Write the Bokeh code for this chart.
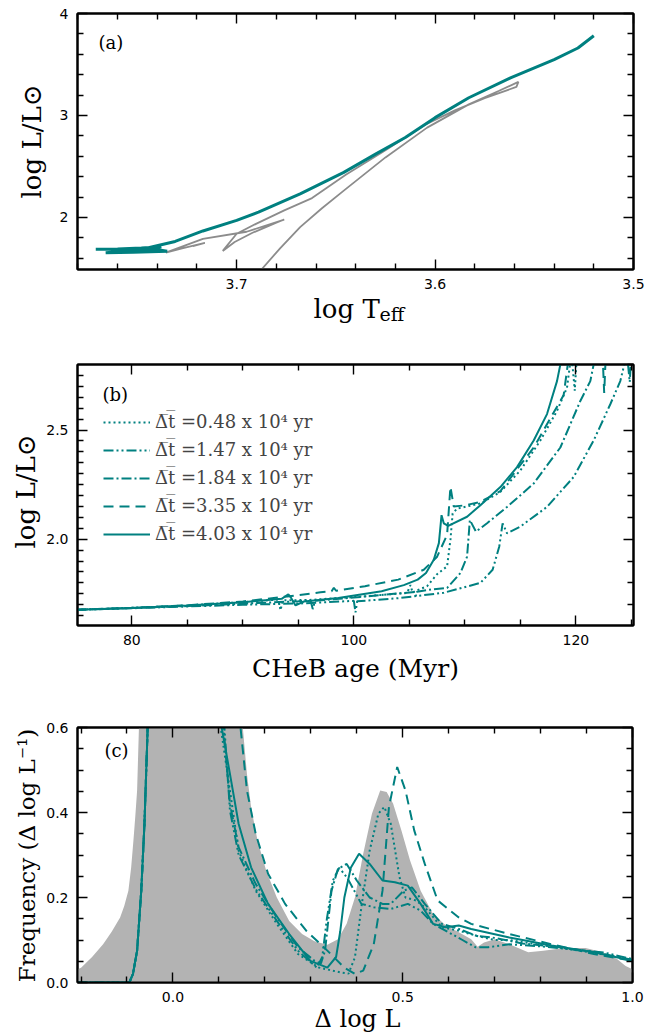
import math
from bokeh.plotting import figure
from bokeh.layouts import column
from bokeh.models import (FixedTicker, LinearAxis, Range1d, Label, Legend, LegendItem,
                          CustomJSTickFormatter, PrintfTickFormatter)
from bokeh.embed import file_html
from bokeh.resources import INLINE

# ---------------- data ----------------
# Panel (a): HR diagram
teal_a_teff = [3.771, 3.760, 3.748, 3.738, 3.742, 3.755, 3.766, 3.752, 3.735, 3.745, 3.731, 3.717,
               3.700, 3.689, 3.668, 3.646, 3.630, 3.615, 3.600, 3.583, 3.562, 3.540, 3.528, 3.520]
teal_a_lum = [1.688, 1.690, 1.700, 1.712, 1.690, 1.672, 1.655, 1.660, 1.668, 1.700, 1.765, 1.868,
              1.971, 2.052, 2.231, 2.442, 2.621, 2.784, 2.979, 3.174, 3.369, 3.548, 3.662, 3.782]
gray_a_teff = [3.6875, 3.678, 3.668, 3.657, 3.646, 3.625, 3.604, 3.583, 3.568, 3.558,
               3.559, 3.575, 3.590, 3.605, 3.625, 3.645, 3.662,
               3.676, 3.690, 3.700, 3.707, 3.701, 3.692, 3.680, 3.676,
               3.695, 3.717, 3.7357, 3.727, 3.716, 3.722]
gray_a_lum = [1.49, 1.70, 1.906, 2.09, 2.263, 2.589, 2.881, 3.109, 3.24, 3.33,
              3.28, 3.17, 3.05, 2.91, 2.66, 2.42, 2.19,
              2.07, 1.94, 1.84, 1.672, 1.76, 1.85, 1.95, 1.98,
              1.86, 1.79, 1.655, 1.70, 1.75, 1.72]

# Panel (b): log L vs CHeB age (Myr)
labels_b = ["\u0394\u0305t\u0305 =0.48 x 10\u2074 yr", "\u0394\u0305t\u0305 =1.47 x 10\u2074 yr",
            "\u0394\u0305t\u0305 =1.84 x 10\u2074 yr", "\u0394\u0305t\u0305 =3.35 x 10\u2074 yr",
            "\u0394\u0305t\u0305 =4.03 x 10\u2074 yr"]
dotted_b_age = [75, 80, 85, 90, 93.2, 93.4, 93.6, 96, 100, 104.8, 105.1, 105.3, 105.5, 106.6, 107.5,
                108.4, 108.7, 108.9, 109.3, 111.4, 113.2, 115.0, 116.8, 118.3, 119.2, 119.6, 119.9, 120.1, 120.3]
dotted_b_lum = [1.677, 1.686, 1.697, 1.712, 1.724, 1.675, 1.72, 1.722, 1.735, 1.754, 1.79, 1.755, 1.762,
                1.785, 1.84, 1.876, 1.997, 2.118, 2.14, 2.164, 2.217, 2.315, 2.452, 2.588, 2.694, 2.85, 2.68, 2.85, 2.9]
ddd_b_age = [75, 80, 85, 90, 95.2, 100, 100.15, 100.3, 104, 108.1, 111.4, 112.5, 113.1, 113.4, 113.8,
             115.0, 117.4, 119.8, 121.6, 123.1, 124.0, 124.6, 124.85, 125.0, 125.15]
ddd_b_lum = [1.677, 1.684, 1.692, 1.70, 1.706, 1.718, 1.665, 1.716, 1.73, 1.755, 1.80, 1.86, 1.967, 2.073,
             2.027, 2.058, 2.148, 2.285, 2.452, 2.618, 2.724, 2.85, 2.72, 2.85, 2.9]
dd_b_age = [75, 80, 85, 90, 95, 96.1, 96.3, 96.5, 100, 104, 105.5, 105.6, 105.7, 107, 108.4, 109.6,
            110.2, 110.45, 111.0, 112.0, 113.8, 116.2, 118.6, 120.4, 121.3, 121.8]
dd_b_lum = [1.677, 1.685, 1.694, 1.705, 1.716, 1.72, 1.68, 1.718, 1.733, 1.752, 1.758, 1.74, 1.76, 1.77,
            1.777, 1.845, 1.92, 2.088, 2.035, 2.073, 2.148, 2.255, 2.42, 2.633, 2.724, 2.85]
dashed_b_age = [75, 80, 85, 90, 94, 97, 98.0, 98.2, 98.4, 101, 104, 106.3, 107.5, 108.4, 108.7, 109.0,
                110.0, 111.4, 113.2, 116.2, 118.9, 119.4, 122.4, 122.55, 122.7]
dashed_b_lum = [1.677, 1.686, 1.698, 1.715, 1.738, 1.757, 1.762, 1.778, 1.764, 1.785, 1.815, 1.86, 1.92,
                2.02, 2.24, 2.15, 2.155, 2.171, 2.22, 2.42, 2.66, 2.85, 2.85, 2.67, 2.85]
solid_b_age = [75, 80, 85, 90, 93.5, 94.1, 94.3, 94.75, 95.5, 98.6, 102.5, 104.5, 105.75, 106.5, 107.2,
               107.66, 107.9, 108.1, 108.5, 110.2, 111.4, 113.2, 114.7, 116.2, 117.4, 118.3, 118.8]
solid_b_lum = [1.677, 1.685, 1.697, 1.712, 1.727, 1.748, 1.735, 1.697, 1.715, 1.731, 1.762, 1.79, 1.815,
               1.845, 1.906, 1.982, 2.11, 2.073, 2.061, 2.103, 2.156, 2.239, 2.33, 2.452, 2.573, 2.724, 2.85]

# Panel (c): frequency of Delta log L
gray_c_x = [-0.21, -0.2, -0.176, -0.152, -0.133, -0.115, -0.106, -0.097, -0.091, -0.086, -0.082, -0.078,
            -0.074, -0.06, 0.0, 0.1, 0.145, 0.152, 0.161,
            0.170, 0.184, 0.203, 0.226, 0.253, 0.281, 0.308, 0.336, 0.359, 0.378, 0.396, 0.414, 0.433,
            0.451, 0.465, 0.479, 0.497, 0.516, 0.539, 0.566, 0.594, 0.622, 0.649, 0.663, 0.677, 0.700,
            0.732, 0.773, 0.806, 0.851, 0.898, 0.935, 0.967, 0.985, 1.0]
gray_c_y = [0.03, 0.035, 0.06, 0.090, 0.12, 0.153, 0.18, 0.216, 0.27, 0.334, 0.39, 0.452,
            0.6, 1.2, 1.5, 1.5, 0.8, 0.6, 0.491,
            0.413, 0.334, 0.263, 0.200, 0.145, 0.114, 0.097, 0.089, 0.102, 0.138, 0.200, 0.303, 0.397,
            0.452, 0.448, 0.421, 0.358, 0.287, 0.216, 0.161, 0.134, 0.118, 0.102, 0.084, 0.094, 0.102,
            0.090, 0.071, 0.075, 0.081, 0.081, 0.071, 0.055, 0.039, 0.031]

rise_x = [-0.21, -0.095, -0.087, -0.078, -0.069, -0.062, -0.055, -0.045, 0.03]
rise_y = [0.0, 0.0, 0.02, 0.075, 0.216, 0.373, 0.6, 0.9, 2.0]
dotted_c_x = rise_x + [0.095, 0.104, 0.124, 0.143, 0.18, 0.226, 0.272, 0.318, 0.364, 0.382, 0.396, 0.41,
                       0.428, 0.447, 0.46, 0.474, 0.493, 0.506, 0.529, 0.548, 0.585, 0.622, 0.66, 0.70,
                       0.732, 0.824, 0.916, 1.0]
dotted_c_y = rise_y + [0.75, 0.6, 0.452, 0.31, 0.216, 0.138, 0.067, 0.035, 0.024, 0.021, 0.059, 0.177,
                       0.31, 0.397, 0.413, 0.373, 0.248, 0.2, 0.193, 0.177, 0.13, 0.122, 0.11, 0.10,
                       0.1, 0.085, 0.07, 0.052]
ddd_c_x = rise_x + [0.10, 0.112, 0.124, 0.143, 0.18, 0.226, 0.272, 0.313, 0.325, 0.335, 0.348, 0.362,
                    0.38, 0.41, 0.437, 0.474, 0.511, 0.539, 0.566, 0.60, 0.63, 0.658, 0.686, 0.732,
                    0.80, 0.87, 0.94, 1.0]
ddd_c_y = rise_y + [0.75, 0.6, 0.405, 0.30, 0.22, 0.145, 0.075, 0.035, 0.06, 0.15, 0.24, 0.27,
                    0.245, 0.185, 0.177, 0.173, 0.185, 0.169, 0.138, 0.118, 0.10, 0.083, 0.083, 0.09,
                    0.085, 0.078, 0.07, 0.055]
dd_c_x = rise_x + [0.10, 0.11, 0.124, 0.143, 0.18, 0.226, 0.272, 0.308, 0.322, 0.331, 0.345, 0.359,
                   0.378, 0.40, 0.428, 0.456, 0.474, 0.502, 0.52, 0.548, 0.585, 0.622, 0.66, 0.70,
                   0.76, 0.824, 0.916, 1.0]
dd_c_y = rise_y + [0.75, 0.6, 0.42, 0.318, 0.232, 0.153, 0.083, 0.051, 0.045, 0.075, 0.216, 0.267,
                   0.279, 0.24, 0.2, 0.185, 0.185, 0.216, 0.224, 0.185, 0.138, 0.126, 0.11, 0.105,
                   0.092, 0.085, 0.072, 0.053]
dashed_c_x = rise_x + [0.13, 0.147, 0.161, 0.180, 0.207, 0.244, 0.290, 0.336, 0.373, 0.396, 0.414,
                       0.437, 0.456, 0.470, 0.488, 0.506, 0.525, 0.548, 0.576, 0.622, 0.649, 0.732,
                       0.824, 0.916, 1.0]
dashed_c_y = rise_y + [0.8, 0.6, 0.452, 0.35, 0.256, 0.185, 0.122, 0.075, 0.035, 0.020, 0.028,
                       0.09, 0.216, 0.413, 0.507, 0.452, 0.358, 0.279, 0.193, 0.153, 0.138, 0.114,
                       0.09, 0.067, 0.051]
solid_c_x = rise_x + [0.095, 0.106, 0.124, 0.143, 0.170, 0.207, 0.253, 0.299, 0.336, 0.355, 0.364,
                      0.373, 0.387, 0.405, 0.428, 0.456, 0.483, 0.511, 0.539, 0.566, 0.594, 0.622,
                      0.649, 0.732, 0.824, 0.916, 1.0]
solid_c_y = rise_y + [0.8, 0.6, 0.491, 0.373, 0.271, 0.185, 0.114, 0.051, 0.035, 0.06, 0.12,
                      0.2, 0.27, 0.303, 0.279, 0.24, 0.236, 0.228, 0.185, 0.138, 0.13, 0.134,
                      0.126, 0.106, 0.087, 0.071, 0.051]

# ---------------- styling ----------------
TEAL = "#008080"
GRAY_LINE = "#8c8c8c"
GRAY_FILL = "#b3b3b3"
SERIF = "DejaVu Serif"
SANS = "DejaVu Sans"
DASHES = {"dotted": "2 3", "ddd": "10 3 2 3 2 3", "dd": "10 3 2 3", "dashed": "10 6", "solid": "solid"}
LEFT = 77  # common left border of all three frames


def style_axis(ax, major, minor, fmt=None, labels=True):
    ax.ticker = FixedTicker(ticks=major, minor_ticks=minor)
    ax.axis_line_width = 2
    ax.axis_line_color = "black"
    ax.major_tick_in = 10
    ax.major_tick_out = 0
    ax.minor_tick_in = 6
    ax.minor_tick_out = 0
    ax.major_tick_line_width = 1.4
    ax.minor_tick_line_width = 1.4
    ax.major_label_text_font = SANS
    ax.major_label_text_color = "black"
    if labels:
        ax.major_label_text_font_size = "14px"
        ax.major_label_standoff = 9
        if fmt:
            ax.formatter = PrintfTickFormatter(format=fmt)
    else:
        ax.major_label_text_font_size = "1px"
        ax.major_label_standoff = 0
        ax.formatter = CustomJSTickFormatter(code="return ''")


def make_fig(xr, yr, fw, fh, bt, br, bb, xmaj, xmin, ymaj, ymin_l, ymin_r, xfmt, yfmt):
    p = figure(frame_width=fw, frame_height=fh, x_range=Range1d(*xr), y_range=Range1d(*yr),
               output_backend="svg", toolbar_location=None,
               min_border_left=LEFT, min_border_top=bt, min_border_right=br, min_border_bottom=bb,
               background_fill_color="white", border_fill_color="white")
    p.outline_line_color = "black"
    p.outline_line_width = 2
    p.xgrid.visible = False
    p.ygrid.visible = False
    style_axis(p.xaxis[0], xmaj, xmin, xfmt)
    style_axis(p.yaxis[0], ymaj, ymin_l, yfmt)
    top = LinearAxis()
    style_axis(top, xmaj, xmin, labels=False)
    p.add_layout(top, "above")
    right = LinearAxis()
    style_axis(right, ymaj, ymin_r, labels=False)
    p.add_layout(right, "right")
    return p


def px2x(xr, fw, px):
    return xr[0] + (xr[1] - xr[0]) * px / fw


def py2y(yr, fh, py):
    return yr[1] - (yr[1] - yr[0]) * py / fh


def add_text(p, side, xr, yr, fw, fh, px, py, text, size, align="left", baseline="middle",
             angle=0.0, style="normal", font=SERIF):
    lab = Label(x=px2x(xr, fw, px), y=py2y(yr, fh, py), text=text, text_font=font,
                text_font_size=size, text_align=align, text_baseline=baseline, angle=angle,
                text_font_style=style, text_color="black")
    if side == "center":
        p.add_layout(lab)
    else:
        p.add_layout(lab, side)


# ---------------- panel (a) ----------------
xa, ya, fwa, fha = (3.7802, 3.5), (1.49, 4.0), 556, 256
pa = make_fig(xa, ya, fwa, fha, 13, 17, 61,
              [3.7, 3.6, 3.5], [round(3.5 + 0.02 * i, 2) for i in range(15) if i % 5 != 0],
              [2, 3, 4], [round(1.6 + 0.2 * i, 1) for i in range(12) if i % 5 != 2],
              [round(1.6 + 0.2 * i, 1) for i in range(12) if i % 5 != 2], "%.1f", "%.0f")
pa.line(gray_a_teff, gray_a_lum, line_color=GRAY_LINE, line_width=1.8)
pa.line(teal_a_teff, teal_a_lum, line_color=TEAL, line_width=3)
add_text(pa, "center", xa, ya, fwa, fha, 21, 29, "(a)", "18px")
add_text(pa, "below", xa, ya, fwa, fha, 236, 295, "log T", "26px", baseline="alphabetic")
add_text(pa, "right", xa, ya, fwa, fha, 302, 300, "eff", "19px", baseline="alphabetic")
add_text(pa, "left", xa, ya, fwa, fha, -46, 128, "log L/L\u2299", "26px", align="center",
         angle=math.pi / 2)

# ---------------- panel (b) ----------------
xb, yb, fwb, fhb = (75.11, 125.19), (1.605, 2.8), 556, 261
pb = make_fig(xb, yb, fwb, fhb, 34, 17, 65,
              [80, 100, 120], [75, 85, 90, 95, 105, 110, 115, 125],
              [2.0, 2.5], [round(1.65 + 0.05 * i, 2) for i in range(23) if i not in (7, 17)],
              [1.7, 1.8, 1.9, 2.1, 2.2, 2.3, 2.4, 2.6, 2.7, 2.8], "%.0f", "%.1f")
rb = []
for (xs, ys, key) in [(dotted_b_age, dotted_b_lum, "dotted"), (ddd_b_age, ddd_b_lum, "ddd"),
                      (dd_b_age, dd_b_lum, "dd"), (dashed_b_age, dashed_b_lum, "dashed"),
                      (solid_b_age, solid_b_lum, "solid")]:
    rb.append(pb.line(xs, ys, line_color=TEAL, line_width=2, line_dash=DASHES[key]))
leg = Legend(items=[LegendItem(label=l, renderers=[r]) for l, r in zip(labels_b, rb)],
             location=(26, 81), label_text_font=SERIF, label_text_font_size="18px",
             glyph_width=47, glyph_height=20, label_height=20, label_standoff=5, spacing=7,
             padding=0, margin=0, border_line_alpha=0, background_fill_alpha=0)
pb.add_layout(leg)
add_text(pb, "center", xb, yb, fwb, fhb, 25, 30, "(b)", "18px")
add_text(pb, "below", xb, yb, fwb, fhb, 278, 304, "CHeB age (Myr)", "25px", align="center")
add_text(pb, "left", xb, yb, fwb, fhb, -52, 127, "log L/L\u2299", "26px", align="center",
         angle=math.pi / 2)

# ---------------- panel (c) ----------------
xc, yc, fwc, fhc = (-0.2077, 1.0), (0.0, 0.6), 555, 255
pc = make_fig(xc, yc, fwc, fhc, 37, 18, 52,
              [0.0, 0.5, 1.0], [-0.2, -0.1, 0.1, 0.2, 0.3, 0.4, 0.6, 0.7, 0.8, 0.9],
              [0.0, 0.2, 0.4, 0.6], [0.05, 0.1, 0.15, 0.25, 0.3, 0.35, 0.45, 0.5, 0.55],
              [0.05, 0.1, 0.15, 0.25, 0.3, 0.35, 0.45, 0.5, 0.55], "%.1f", "%.1f")
pc.varea(x=gray_c_x, y1=[0.0] * len(gray_c_x), y2=gray_c_y, fill_color=GRAY_FILL)
for (xs, ys, key) in [(dotted_c_x, dotted_c_y, "dotted"), (ddd_c_x, ddd_c_y, "ddd"),
                      (dd_c_x, dd_c_y, "dd"), (dashed_c_x, dashed_c_y, "dashed"),
                      (solid_c_x, solid_c_y, "solid")]:
    pc.line(xs, ys, line_color=TEAL, line_width=2, line_dash=DASHES[key])
add_text(pc, "center", xc, yc, fwc, fhc, 27, 23, "(c)", "18px")
add_text(pc, "above", xc, yc, fwc, fhc, 280, 291, "\u0394 log L", "24px", align="center")
add_text(pc, "left", xc, yc, fwc, fhc, -51, 128, "Frequency (\u0394 log L\u207b\u00b9)", "23px",
         align="center", angle=math.pi / 2)

layout = column(pa, pb, pc, spacing=0)
open("out.html", "w").write(file_html(layout, INLINE))
